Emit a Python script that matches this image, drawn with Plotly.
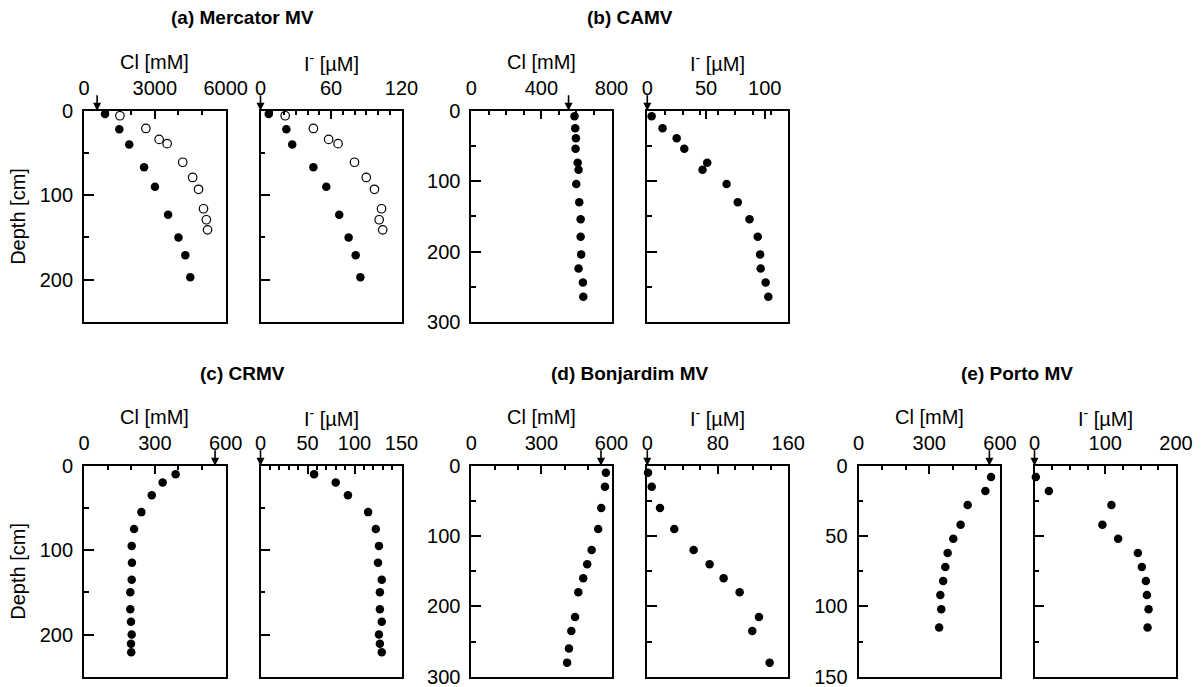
import plotly.graph_objects as go

W, H = 1201, 687

# ---------------- data ----------------
# (a) Mercator MV  (two cores: filled / open)
a_depth_filled = [4, 22, 40, 67, 90, 123, 150, 171, 197]
a_cl_filled = [890, 1495, 1915, 2545, 3005, 3560, 4000, 4290, 4500]
a_i_filled = [7, 22, 27, 45, 56, 67, 75, 81, 85]
a_depth_open = [6, 21, 34, 39, 61, 79, 93, 116, 129, 141]
a_cl_open = [1520, 2620, 3180, 3520, 4180, 4600, 4850, 5060, 5180, 5230]
a_i_open = [21, 45, 58, 66, 80, 90, 97, 103, 101, 104]

# (b) CAMV
b_depth = [8, 25, 39, 54, 74, 84, 104, 130, 154, 179, 204, 224, 244, 264]
b_cl = [589, 593, 597, 595, 607, 612, 599, 616, 624, 624, 627, 612, 637, 639]
b_i = [3.7, 13, 25, 31.5, 51, 47, 67.5, 77, 87, 94, 96, 96.5, 100.7, 103]

# (c) CRMV
c_depth = [10, 20, 35, 55, 75, 95, 115, 135, 150, 170, 185, 200, 211, 221]
c_cl = [388, 333, 287, 243, 212, 202, 203, 202, 196, 196, 199, 202, 199, 200]
c_i = [57, 80, 93, 114.5, 122.7, 126, 125, 129, 127, 127, 129, 126, 127, 129]

# (d) Bonjardim MV
d_depth_cl = [10, 30, 60, 90, 120, 140, 160, 180, 215, 235, 260, 280]
d_cl = [576, 572, 556, 543, 515, 496, 479, 458, 444, 428, 418, 410]
d_depth_i = [10, 30, 60, 90, 120, 140, 160, 180, 215, 235, 280]
d_i = [0.8, 5, 14.4, 30.6, 52.6, 70.7, 86.6, 104.8, 126.7, 119.1, 138.8]

# (e) Porto MV
e_depth = [8, 18, 28, 42, 52, 62, 72, 82, 92, 102, 115]
e_cl = [562, 538, 463, 433, 402, 378, 368, 359, 347, 351, 342]
e_i = [1.9, 20.3, 108.7, 96, 118.2, 146.1, 151.8, 157.4, 158.9, 161.2, 159.8]

# seawater reference values (arrows)
seawater_cl = 555
seawater_i = 0

titles = ["(a) Mercator MV", "(b) CAMV", "(c) CRMV", "(d) Bonjardim MV", "(e) Porto MV"]

# ---------------- layout geometry (pixels) ----------------
FONT = "Liberation Sans, Arial, sans-serif"
FS = 20
FS_TITLE = 19

col_px = [  # (cl_left, cl_right, i_left, i_right)
    (84, 225.7, 260.5, 401.5),
    (471.3, 611.5, 647.3, 788.3),
    (858.5, 1000, 1034.5, 1176),
]
row_px = [(110.7, 322.0), (465.7, 676.7)]

def px_x(p):
    return p / W

def px_y(p):
    return 1 - p / H

panels = [
    dict(col=0, row=0, kind="cl", xr=[0, 6000], dt=3000, mdt=1000, ymax=250, ydt=100, ymdt=50, ylab=True,
         data=[(a_cl_filled, a_depth_filled, "filled"), (a_cl_open, a_depth_open, "open")]),
    dict(col=0, row=0, kind="i", xr=[0, 120], dt=60, mdt=10, ymax=250, ydt=100, ymdt=50, ylab=False,
         data=[(a_i_filled, a_depth_filled, "filled"), (a_i_open, a_depth_open, "open")]),
    dict(col=1, row=0, kind="cl", xr=[0, 800], dt=400, mdt=100, ymax=300, ydt=100, ymdt=50, ylab=True,
         data=[(b_cl, b_depth, "filled")]),
    dict(col=1, row=0, kind="i", xr=[0, 120], dt=50, mdt=15, ymax=300, ydt=100, ymdt=50, ylab=False,
         data=[(b_i, b_depth, "filled")]),
    dict(col=0, row=1, kind="cl", xr=[0, 600], dt=300, mdt=100, ymax=250, ydt=100, ymdt=50, ylab=True,
         data=[(c_cl, c_depth, "filled")]),
    dict(col=0, row=1, kind="i", xr=[0, 150], dt=50, mdt=10, ymax=250, ydt=100, ymdt=50, ylab=False,
         data=[(c_i, c_depth, "filled")]),
    dict(col=1, row=1, kind="cl", xr=[0, 600], dt=300, mdt=100, ymax=300, ydt=100, ymdt=50, ylab=True,
         data=[(d_cl, d_depth_cl, "filled")]),
    dict(col=1, row=1, kind="i", xr=[0, 160], dt=80, mdt=20, ymax=300, ydt=100, ymdt=50, ylab=False,
         data=[(d_i, d_depth_i, "filled")]),
    dict(col=2, row=1, kind="cl", xr=[0, 600], dt=300, mdt=100, ymax=150, ydt=50, ymdt=25, ylab=True,
         data=[(e_cl, e_depth, "filled")]),
    dict(col=2, row=1, kind="i", xr=[0, 200], dt=100, mdt=25, ymax=150, ydt=50, ymdt=25, ylab=False,
         data=[(e_i, e_depth, "filled")]),
]

fig = go.Figure()
layout = dict(
    width=W, height=H, margin=dict(l=0, r=0, t=0, b=0),
    paper_bgcolor="white", plot_bgcolor="white", showlegend=False,
    font=dict(family=FONT, size=FS, color="black"),
)
annotations = []

for k, p in enumerate(panels):
    n = k + 1
    xa = "xaxis" if n == 1 else f"xaxis{n}"
    ya = "yaxis" if n == 1 else f"yaxis{n}"
    xr_ = "x" if n == 1 else f"x{n}"
    yr_ = "y" if n == 1 else f"y{n}"
    cl_l, cl_r, i_l, i_r = col_px[p["col"]]
    left, right = (cl_l, cl_r) if p["kind"] == "cl" else (i_l, i_r)
    top, bot = row_px[p["row"]]

    layout[xa] = dict(
        domain=[px_x(left), px_x(right)], anchor=yr_, side="top",
        range=p["xr"], tick0=0, dtick=p["dt"], ticks="inside", ticklen=8, tickwidth=1.5,
        tickcolor="black", showline=True, mirror=True, linecolor="black", linewidth=1.8,
        showgrid=False, zeroline=False, automargin=False, ticklabelstandoff=6,
        ticklabeloverflow="allow",
        tickfont=dict(family=FONT, size=FS, color="black"),
        minor=dict(tick0=0, dtick=p["mdt"], ticks="inside", ticklen=4, tickwidth=1.5,
                   tickcolor="black", showgrid=False),
    )
    layout[ya] = dict(
        domain=[px_y(bot), px_y(top)], anchor=xr_,
        range=[p["ymax"], 0], tick0=0, dtick=p["ydt"], ticks="inside", ticklen=10, tickwidth=1.5,
        tickcolor="black", showline=True, mirror=True, linecolor="black", linewidth=1.8,
        showgrid=False, zeroline=False, automargin=False, showticklabels=p["ylab"],
        ticklabelstandoff=5, ticklabeloverflow="allow",
        tickfont=dict(family=FONT, size=FS, color="black"),
        minor=dict(tick0=0, dtick=p["ymdt"], ticks="inside", ticklen=5, tickwidth=1.5,
                   tickcolor="black", showgrid=False),
    )

    for xs, ys, style in p["data"]:
        if style == "filled":
            mk = dict(size=8.5, color="black", line=dict(color="black", width=0))
        else:
            mk = dict(size=8.5, color="white", line=dict(color="black", width=1.2))
        fig.add_trace(go.Scatter(x=xs, y=ys, mode="markers", marker=mk,
                                 xaxis=xr_, yaxis=yr_, cliponaxis=False, hoverinfo="skip"))

    # seawater arrow pointing down onto the top axis
    sw = seawater_cl if p["kind"] == "cl" else seawater_i
    annotations.append(dict(
        x=sw, y=0, xref=xr_, yref=yr_, text="", showarrow=True,
        ax=0, ay=-17, axref="pixel", ayref="pixel",
        arrowhead=2, arrowsize=1, arrowwidth=1.6, arrowcolor="black", standoff=0,
    ))

    # axis title
    label = "Cl [mM]" if p["kind"] == "cl" else "I<sup>-</sup> [µM]"
    annotations.append(dict(
        x=px_x((left + right) / 2), y=px_y(top - 48.5), xref="paper", yref="paper",
        text=label, showarrow=False, xanchor="center", yanchor="middle",
        font=dict(family=FONT, size=FS, color="black"),
    ))

# panel titles
title_pos = [(0, 0), (1, 0), (0, 1), (1, 1), (2, 1)]
for t, (c, r) in zip(titles, title_pos):
    cl_l, cl_r, i_l, i_r = col_px[c]
    top, bot = row_px[r]
    annotations.append(dict(
        x=px_x((cl_l + i_r) / 2), y=px_y(top - 92.7), xref="paper", yref="paper",
        text=f"<b>{t}</b>", showarrow=False, xanchor="center", yanchor="middle",
        font=dict(family=FONT, size=FS_TITLE, color="black"),
    ))

# depth labels
for r in range(2):
    top, bot = row_px[r]
    annotations.append(dict(
        x=px_x(18.5), y=px_y((top + bot) / 2), xref="paper", yref="paper",
        text="Depth [cm]", showarrow=False, textangle=-90, xanchor="center", yanchor="middle",
        font=dict(family=FONT, size=FS, color="black"),
    ))

layout["annotations"] = annotations
fig.update_layout(**layout)
fig.write_html("out.html")
